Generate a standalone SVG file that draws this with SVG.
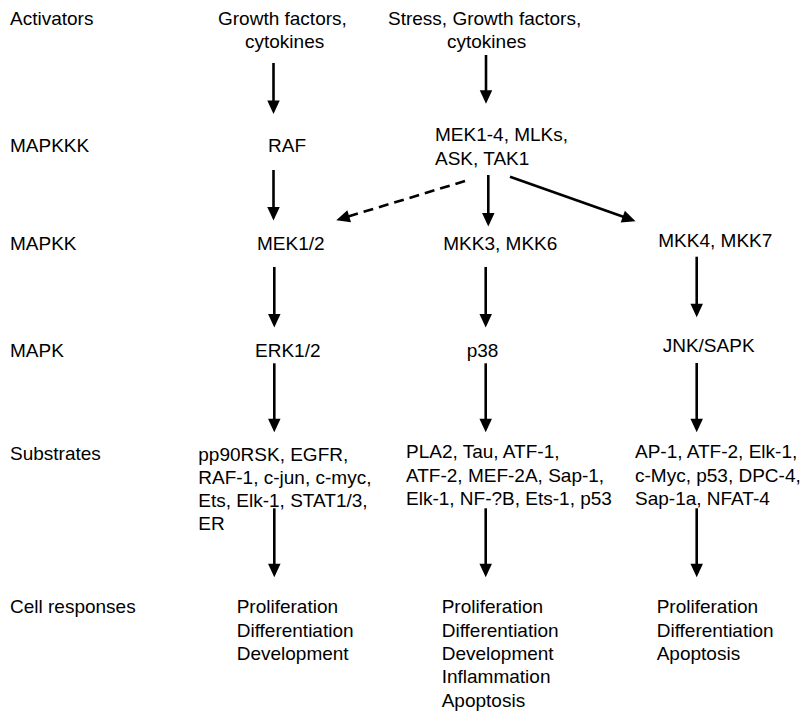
<svg xmlns="http://www.w3.org/2000/svg" width="809" height="711" viewBox="0 0 809 711">
<defs>
<style>
text{font-family:"Liberation Sans",Arial,Helvetica,sans-serif;font-size:19px;fill:#000}
.c line{stroke:#000;stroke-width:2.6;fill:none}
.c .d{stroke-dasharray:10 6}
</style>
<marker id="ah" markerUnits="userSpaceOnUse" markerWidth="14" markerHeight="13" refX="5" refY="6.25" orient="auto" overflow="visible">
<path d="M0,0 L13.5,6.25 L0,12.5 Z" fill="#000"/>
</marker>
</defs>
<rect width="809" height="711" fill="#fff"/>
<g id="labels">
<text x="10" y="25">Activators</text>
<text x="10" y="152">MAPKKK</text>
<text x="10" y="250">MAPKK</text>
<text x="10" y="357">MAPK</text>
<text x="10" y="460">Substrates</text>
<text x="10" y="613">Cell responses</text>
</g>
<g id="act1"><text x="218" y="25">Growth factors,</text><text x="245" y="48.3">cytokines</text></g>
<g id="act2"><text x="388" y="25">Stress, Growth factors,</text><text x="447" y="48.3">cytokines</text></g>
<g id="raf"><text x="268" y="151.7">RAF</text></g>
<g id="mapkkk2"><text x="435" y="141">MEK1-4, MLKs,</text><text x="435" y="164.5">ASK, TAK1</text></g>
<g id="mek12"><text x="257" y="250">MEK1/2</text></g>
<g id="mkk36"><text x="443.3" y="250">MKK3, MKK6</text></g>
<g id="mkk47"><text x="658.3" y="246.7">MKK4, MKK7</text></g>
<g id="erk"><text x="255" y="357">ERK1/2</text></g>
<g id="p38"><text x="466.7" y="357">p38</text></g>
<g id="jnk"><text x="662.7" y="351.7">JNK/SAPK</text></g>
<g id="sub1">
<text x="198.3" y="460.5">pp90RSK, EGFR,</text>
<text x="198.3" y="483.5">RAF-1, c-jun, c-myc,</text>
<text x="198.3" y="506.5">Ets, Elk-1, STAT1/3,</text>
<text x="198.3" y="529.5">ER</text>
</g>
<g id="sub2">
<text x="406" y="458.3">PLA2, Tau, ATF-1,</text>
<text x="406" y="481.7">ATF-2, MEF-2A, Sap-1,</text>
<text x="406" y="505">Elk-1, NF-?B, Ets-1, p53</text>
</g>
<g id="sub3">
<text x="635" y="458.3">AP-1, ATF-2, Elk-1,</text>
<text x="635" y="481.7">c-Myc, p53, DPC-4,</text>
<text x="635" y="505">Sap-1a, NFAT-4</text>
</g>
<g id="resp1">
<text x="236.7" y="613.3">Proliferation</text>
<text x="236.7" y="636.7">Differentiation</text>
<text x="236.7" y="660">Development</text>
</g>
<g id="resp2">
<text x="441.7" y="613.3">Proliferation</text>
<text x="441.7" y="636.7">Differentiation</text>
<text x="441.7" y="660">Development</text>
<text x="441.7" y="683.3">Inflammation</text>
<text x="441.7" y="706.7">Apoptosis</text>
</g>
<g id="resp3">
<text x="656.7" y="613.3">Proliferation</text>
<text x="656.7" y="636.7">Differentiation</text>
<text x="656.7" y="660">Apoptosis</text>
</g>
<g id="connectors" class="c">
<line x1="273.5" y1="63" x2="273.5" y2="105.5" marker-end="url(#ah)"/>
<line x1="273.5" y1="170" x2="273.5" y2="212" marker-end="url(#ah)"/>
<line x1="274.3" y1="267" x2="274.3" y2="319" marker-end="url(#ah)"/>
<line x1="274.3" y1="363.3" x2="274.3" y2="423.7" marker-end="url(#ah)"/>
<line x1="274.3" y1="508.3" x2="274.3" y2="568.7" marker-end="url(#ah)"/>
<line x1="486" y1="55" x2="486" y2="95.3" marker-end="url(#ah)"/>
<line x1="488.3" y1="175" x2="488.3" y2="218" marker-end="url(#ah)"/>
<line x1="485.7" y1="267" x2="485.7" y2="319" marker-end="url(#ah)"/>
<line x1="485.7" y1="363.3" x2="485.7" y2="423.7" marker-end="url(#ah)"/>
<line x1="485.7" y1="508.3" x2="485.7" y2="568.7" marker-end="url(#ah)"/>
<line x1="510" y1="176.7" x2="627.5" y2="218.3" marker-end="url(#ah)"/>
<line class="d" x1="465" y1="181" x2="344.4" y2="217.7" marker-end="url(#ah)"/>
<line x1="696.7" y1="256.7" x2="696.7" y2="308.7" marker-end="url(#ah)"/>
<line x1="696.7" y1="363" x2="696.7" y2="423.7" marker-end="url(#ah)"/>
<line x1="696.7" y1="508.3" x2="696.7" y2="568.7" marker-end="url(#ah)"/>
</g>
</svg>
